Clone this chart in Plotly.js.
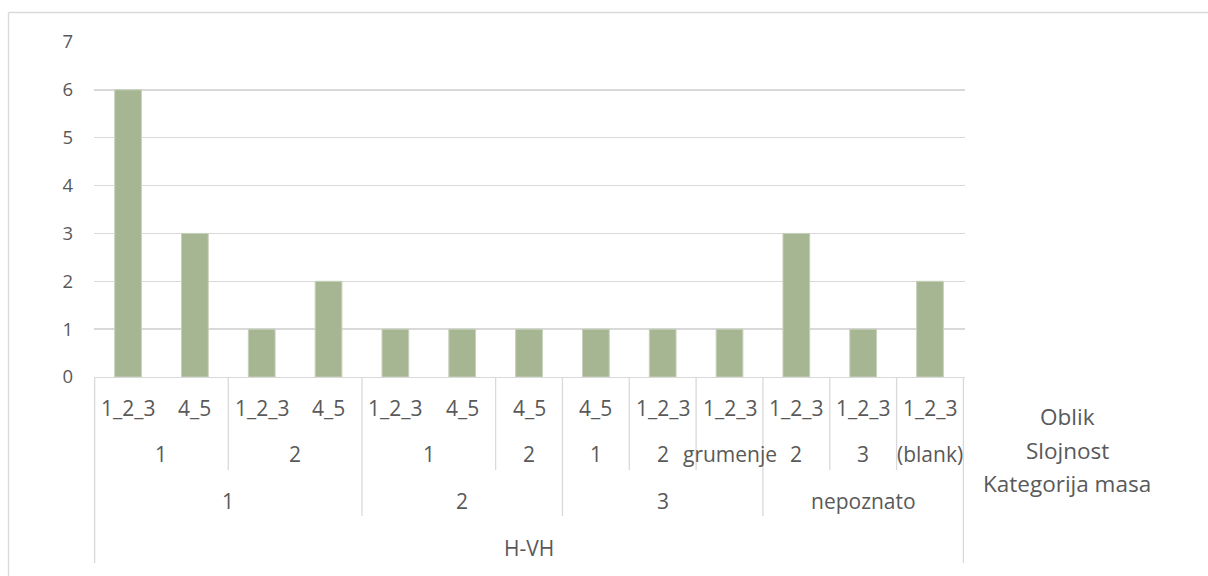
<!DOCTYPE html>
<html>
<head>
<meta charset="utf-8">
<script src="https://cdn.plot.ly/plotly-3.0.1.min.js"></script>
<style>
  html, body { margin: 0; padding: 0; background: #ffffff; }
  #chart { width: 1208px; height: 576px; }
</style>
</head>
<body>
<div id="chart"></div>
<script>
// ---- data ----
const oblik      = ['1_2_3','4_5','1_2_3','4_5','1_2_3','4_5','4_5','4_5','1_2_3','1_2_3','1_2_3','1_2_3','1_2_3'];
const slojnost   = ['1','1','2','2','1','1','2','1','2','grumenje','2','3','(blank)'];
const kategorija = ['1','1','1','1','2','2','2','3','3','3','nepoznato','nepoznato','nepoznato'];
const grupa      = ['H-VH','H-VH','H-VH','H-VH','H-VH','H-VH','H-VH','H-VH','H-VH','H-VH','H-VH','H-VH','H-VH'];
const counts     = [6, 3, 1, 2, 1, 1, 1, 1, 1, 1, 3, 1, 2];
const levelNames = ['Oblik', 'Slojnost', 'Kategorija masa'];

// ---- helpers ----
const FONT = '"Open Sans", "Noto Sans", sans-serif';
const FS_Y = 18.5, FS_CAT = 21, FS_NAME = 22.5;
const TXT = '#595959';
const GRID = '#d9d9d9';
const n = counts.length;
const keys = counts.map((_, i) => [grupa[i], kategorija[i], slojnost[i], oblik[i], i].join('|'));

// plot area geometry in pixels (for converting to paper units)
const W = 1208, H = 576, mL = 94, mR = 243, mT = 42, mB = 199;
const plotH = H - mT - mB, plotW = W - mL - mR;
const py = y => 1 - (y - mT) / plotH;          // pixel y -> paper y
const px = x => (x - mL) / plotW;              // pixel x -> paper x

// levels from innermost to outermost; group key for each level
const levels = [
  {labels: oblik,      key: i => keys[i],                                          y: 408},
  {labels: slojnost,   key: i => [grupa[i], kategorija[i], slojnost[i]].join('|'), y: 454},
  {labels: kategorija, key: i => [grupa[i], kategorija[i]].join('|'),              y: 501},
  {labels: grupa,      key: i => grupa[i],                                         y: 548}
];
const rowBottom = [423, 470, 516, 563];

const annotations = [];
levels.forEach((lv) => {
  let start = 0;
  for (let i = 1; i <= n; i++) {
    if (i === n || lv.key(i) !== lv.key(start)) {
      annotations.push({
        x: (start + i - 1) / 2, xref: 'x', y: py(lv.y), yref: 'paper',
        text: lv.labels[start], showarrow: false, xanchor: 'center', yanchor: 'middle',
        font: {family: FONT, size: FS_CAT, color: TXT}
      });
      start = i;
    }
  }
});

// level names on the right
const nameY = [417, 450, 483];
levelNames.forEach((t, k) => {
  annotations.push({
    x: px(1067), xref: 'paper', y: py(nameY[k]), yref: 'paper',
    text: t, showarrow: false, xanchor: 'center', yanchor: 'middle',
    font: {family: FONT, size: FS_NAME, color: TXT}
  });
});

// boundary lines between categories
const shapes = [];
for (let b = 0; b <= n; b++) {
  let depth; // highest level index whose group changes at this boundary
  if (b === 0 || b === n) depth = 3;
  else {
    depth = -1;
    for (let L = 1; L < levels.length; L++) {
      if (levels[L].key(b) !== levels[L].key(b - 1)) { depth = L; }
    }
    if (depth === -1) continue;
  }
  shapes.push({
    type: 'line', xref: 'x', yref: 'paper',
    x0: b - 0.5, x1: b - 0.5, y0: 0, y1: py(rowBottom[depth]),
    line: {color: GRID, width: 1.3}
  });
}
// outer chart frame (left and top edges)
shapes.push({type: 'line', xref: 'paper', yref: 'paper', x0: px(8.5), x1: px(8.5), y0: py(12.5), y1: py(590), line: {color: GRID, width: 1.3}});
shapes.push({type: 'line', xref: 'paper', yref: 'paper', x0: px(8.5), x1: px(1215), y0: py(12.5), y1: py(12.5), line: {color: GRID, width: 1.3}});

const trace = {
  type: 'bar',
  x: keys,
  y: counts,
  marker: {color: '#a6b592', line: {color: '#c7d0bb', width: 1}},
  hoverinfo: 'y'
};

const layout = {
  width: W, height: H,
  margin: {l: mL, r: mR, t: mT, b: mB, pad: 0},
  paper_bgcolor: '#ffffff', plot_bgcolor: '#ffffff',
  showlegend: false,
  bargap: 0.6,
  xaxis: {
    type: 'category', showticklabels: false, showgrid: false, zeroline: false,
    showline: true, linecolor: GRID, linewidth: 1.3, ticks: '', fixedrange: true
  },
  yaxis: {
    range: [0, 7], dtick: 1, tick0: 0, showgrid: true, gridcolor: GRID, gridwidth: 1.3,
    zeroline: false, showline: false, ticks: '', ticklabelstandoff: 20,
    tickfont: {family: FONT, size: FS_Y, color: TXT}, fixedrange: true
  },
  annotations: annotations,
  shapes: shapes
};

Plotly.newPlot('chart', [trace], layout, {displayModeBar: false, staticPlot: true});
</script>
</body>
</html>
